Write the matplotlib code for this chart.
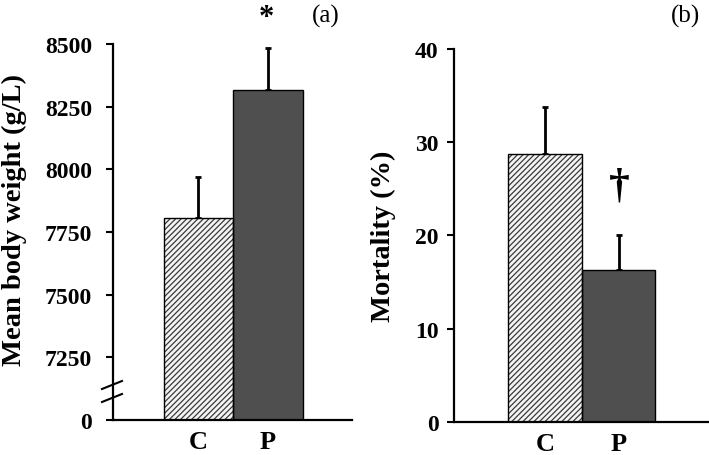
import numpy as np
from matplotlib import pyplot as plt
from matplotlib.lines import Line2D

groups = ["C", "P"]

weight_mean = [7805, 8318]
weight_err = [165, 166]
weight_ticks = [7000, 7250, 7500, 7750, 8000, 8250, 8500]
weight_ticklabels = ["0", "7250", "7500", "7750", "8000", "8250", "8500"]

mort_mean = [28.75, 16.3]
mort_err = [5.05, 3.8]
mort_ticks = [0, 10, 20, 30, 40]


def draw_bars(ax, means, errs):
	x = np.arange(len(means))
	# hatched control bar, solid dark bar for P
	ax.bar(x[0], means[0], width=1.0, color="#f4f4f4", edgecolor="#3a3a3a",
		hatch="//////", linewidth=0, zorder=2)
	ax.bar(x[0], means[0], width=1.0, fill=False, edgecolor="black", linewidth=1.0, zorder=3)
	ax.bar(x[1], means[1], width=1.0, color="#4f4f4f", edgecolor="black", linewidth=1.0, zorder=2)
	ax.errorbar(x, means, yerr=[np.zeros(len(errs)), errs], fmt="none", ecolor="black",
		elinewidth=2.0, capsize=2.5, capthick=2.0, zorder=1)
	ax.set_xticks(x)
	ax.set_xticklabels(groups)


def main():
	plt.rcParams['font.family'] = ['Liberation Serif', 'DejaVu Serif']
	plt.rcParams['hatch.linewidth'] = 0.9
	fig = plt.figure(figsize=(7.09, 4.56), dpi=100)
	W, H = 709.0, 456.0

	ax1 = fig.add_axes([113 / W, 1 - 421 / H, (352 - 113) / W, (421 - 45) / H])
	ax2 = fig.add_axes([454 / W, 1 - 423 / H, (709 - 454) / W, (423 - 50) / H])

	draw_bars(ax1, weight_mean, weight_err)
	ax1.set_ylim(7000, 8500)
	ax1.set_xlim(-1.23, 2.21)
	ax1.set_yticks(weight_ticks)
	ax1.set_yticklabels(weight_ticklabels)

	draw_bars(ax2, mort_mean, mort_err)
	ax2.set_ylim(0, 40)
	ax2.set_xlim(-1.24, 2.23)
	ax2.set_yticks(mort_ticks)

	for ax, ypad in ((ax1, 10), (ax2, 6)):
		ax.spines['top'].set_visible(False)
		ax.spines['right'].set_visible(False)
		ax.spines['left'].set_linewidth(1.6)
		ax.spines['bottom'].set_linewidth(1.6)
		ax.tick_params(axis='y', direction='out', length=5, width=1.5, pad=ypad, labelsize=17)
		ax.tick_params(axis='x', length=0, pad=7, labelsize=19)
		for lab in ax.get_xticklabels() + ax.get_yticklabels():
			lab.set_fontweight('bold')

	fig.text(14 / W, 1 - 220.5 / H, "Mean body weight (g/L)", rotation=90, ha="center",
		va="center", fontsize=20.5, fontweight="bold")
	fig.text(383.5 / W, 1 - 236.5 / H, "Mortality (%)", rotation=90, ha="center",
		va="center", fontsize=20.5, fontweight="bold")

	# axis break marks
	for y0 in (390, 403):
		fig.add_artist(Line2D([102 / W, 122 / W], [1 - y0 / H, 1 - (y0 - 8) / H],
			color="black", linewidth=1.5))

	fig.text(266 / W, 1 - 26 / H, "*", ha="center", va="baseline", fontsize=22, fontweight="bold")
	fig.text(619 / W, 1 - 187 / H, "\u2020", ha="center", va="center", fontsize=30, fontweight="bold")
	fig.text(326 / W, 1 - 16 / H, "(a)", ha="center", va="center", fontsize=18)
	fig.text(686 / W, 1 - 16 / H, "(b)", ha="center", va="center", fontsize=18)

	fig.savefig("out.png", dpi=100)


if __name__ == "__main__":
	main()
